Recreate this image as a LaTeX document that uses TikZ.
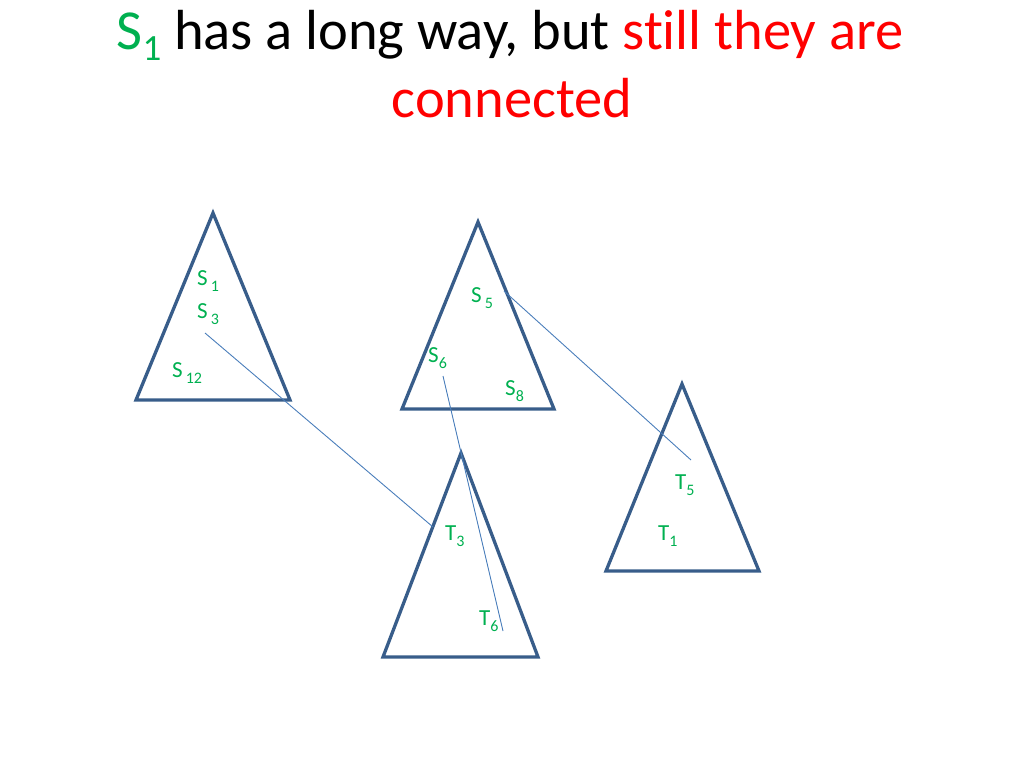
\documentclass[tikz,border=0pt]{standalone}
\usepackage{fontspec}
\setmainfont[Ligatures=NoCommon]{Carlito}
\definecolor{sgreen}{RGB}{0,176,80}
\definecolor{tred}{RGB}{255,0,0}
\definecolor{triblue}{RGB}{56,93,138}
\definecolor{linkblue}{RGB}{74,126,187}
\newcommand{\mylab}[3]{#1\hspace{#3}\raisebox{-6pt}{\fontsize{16}{16}\selectfont #2}}
\begin{document}
\begin{tikzpicture}[x=1pt,y=-1pt,
  tri/.style={draw=triblue,line width=3.3pt,line join=miter},
  link/.style={draw=linkblue,line width=0.9pt},
  lab/.style={anchor=base west,inner sep=0pt,text=sgreen,font=\fontsize{23}{23}\selectfont},
  ttl/.style={anchor=base,inner sep=0pt,font=\fontsize{56.5}{66}\selectfont}]
\useasboundingbox (0,0) rectangle (1024,768);
% title
\node[ttl] (t1) at (510,49) {\textcolor{sgreen}{S\raisebox{-11pt}{\fontsize{37}{37}\selectfont 1}} has a long way, but \textcolor{tred}{st\kern0pt ill they are}};
\node[ttl,text=tred] (t2) at (512,117) {connected};
% triangles
\draw[tri] (213,213) -- (290,400) -- (136,400) -- cycle;
\draw[tri] (478,222) -- (554,409) -- (402,409) -- cycle;
\draw[tri] (461,453) -- (538,657) -- (383,657) -- cycle;
\draw[tri] (682,384) -- (759,571) -- (606,571) -- cycle;
% labels
\node[lab] (s1) at (197,285) {\mylab{S}{1}{3pt}};
\node[lab] (s3) at (197,318) {\mylab{S}{3}{3pt}};
\node[lab] (s12) at (172,377) {\mylab{S}{12}{3pt}};
\node[lab] (s5) at (471,302) {\mylab{S}{5}{3pt}};
\node[lab] (s6) at (428,362) {\mylab{S}{6}{0pt}};
\node[lab] (s8) at (505,395) {\mylab{S}{8}{0pt}};
\node[lab] (tt3) at (445,540) {\mylab{T}{3}{0pt}};
\node[lab] (tt6) at (479,625) {\mylab{T}{6}{0pt}};
\node[lab] (tt5) at (675,489) {\mylab{T}{5}{0pt}};
\node[lab] (tt1) at (658,540) {\mylab{T}{1}{0pt}};
% link end points
\coordinate (a1) at (205,333);
\coordinate (b1) at (433,527);
\coordinate (a2) at (504,291);
\coordinate (b2) at (691,460);
\coordinate (a3) at (443,376);
\coordinate (b3) at (503,631);
\draw[link] (a1) -- (b1);
\draw[link] (a2) -- (b2);
\draw[link] (a3) -- (b3);
\end{tikzpicture}
\end{document}
